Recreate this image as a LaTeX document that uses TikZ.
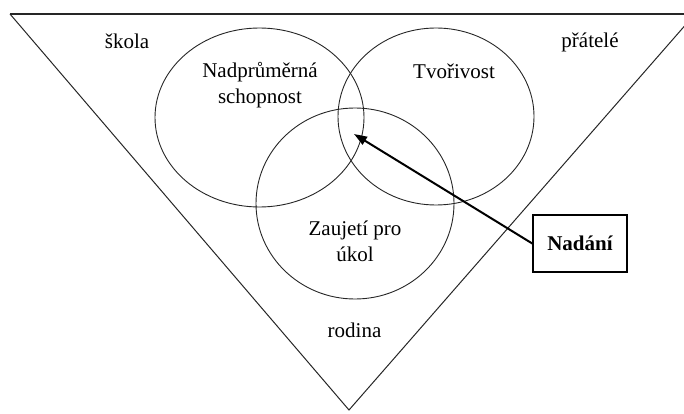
\documentclass[tikz,border=0pt]{standalone}
\usepackage{fontspec}
\setmainfont{Liberation Serif}
\usetikzlibrary{arrows.meta,shapes.geometric}
\begin{document}
\begin{tikzpicture}[x=1pt,y=-1pt,
  lbl/.style={font=\fontsize{21}{26}\selectfont, align=center, inner sep=0pt},
  ring/.style={draw=black!85, line width=0.9pt},
  edge/.style={draw=black!85, line width=1pt}]
\useasboundingbox (0,0) rectangle (684,414);
\begin{scope}
\clip (0,0) rectangle (684,414);
\coordinate (tl) at (10,14);
\coordinate (tr) at (695,14);
\coordinate (ap) at (349,410);
\draw[edge, line width=1.4pt] (tl) -- (tr);
\draw[edge] (tl) -- (ap) -- (tr);
\end{scope}
\node[ring, ellipse, minimum width=209pt, minimum height=179pt, inner sep=0pt] (e1) at (259.5,117.5) {};
\node[ring, ellipse, minimum width=196pt, minimum height=177pt, inner sep=0pt] (e2) at (436,116.5) {};
\node[ring, ellipse, minimum width=198pt, minimum height=191pt, inner sep=0pt] (e3) at (355,203.5) {};
\node[lbl] (skola) at (127,41) {škola};
\node[lbl] (pratele) at (590,42) {přátelé};
\node[lbl] (nadpr) at (260,85) {Nadprůměrná\\schopnost};
\node[lbl] (tvor) at (454,71) {Tvořivost};
\node[lbl] (zauj) at (355,241.5) {Zaujetí pro\\úkol};
\node[lbl] (rodina) at (354.5,330) {rodina};
\node[draw=black, line width=1.5pt, minimum width=94pt, minimum height=57pt, inner sep=0pt,
  font=\fontsize{21}{24}\selectfont\bfseries] (nad) at (580,243.5) {Nadání};
\coordinate (tip) at (354,134);
\draw[line width=2pt, -{Triangle[length=13pt, width=9pt]}] (nad.west) -- (tip);
\end{tikzpicture}
\end{document}
